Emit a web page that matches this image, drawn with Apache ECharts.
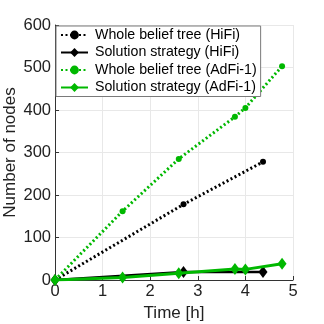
<!DOCTYPE html>
<html>
<head>
<meta charset="utf-8">
<script src="https://cdn.jsdelivr.net/npm/echarts@6/dist/echarts.min.js"></script>
<style>
html, body { margin: 0; padding: 0; background: #fff; }
#chart { width: 324px; height: 324px; }
</style>
</head>
<body>
<div id="chart"></div>
<script>
// data
const seriesNames = ['Whole belief tree (HiFi)', 'Solution strategy (HiFi)', 'Whole belief tree (AdFi-1)', 'Solution strategy (AdFi-1)'];
const hifiTime = [0, 2.7, 4.37];
const hifiTree = [0, 178, 278];
const hifiSolution = [0, 19, 19];
const adfiTime = [0, 1.42, 2.6, 3.78, 4.0, 4.77];
const adfiTree = [0, 162, 285, 384, 405, 503];
const adfiSolution = [0, 6, 16, 26, 25, 38];
const xTicks = [0, 1, 2, 3, 4, 5];
const yTicks = [0, 100, 200, 300, 400, 500, 600];

const green = '#00b800';
const font = 'Liberation Sans, Arial, Helvetica, sans-serif';

function pairs(xs, ys) {
  return xs.map((x, i) => [x, ys[i]]);
}

const chart = echarts.init(document.getElementById('chart'));
chart.setOption({
  animation: false,
  grid: { left: 55, right: 31, top: 25, bottom: 44, containLabel: false, outerBoundsMode: 'none' },
  legend: {
    left: 56,
    top: 26,
    orient: 'vertical',
    backgroundColor: '#fff',
    borderColor: '#7a7a7a',
    borderWidth: 1,
    borderRadius: 0,
    padding: [2, 4, 2, 4],
    itemWidth: 27,
    itemHeight: 11,
    itemGap: 3.5,
    textStyle: { fontFamily: font, fontSize: 14.2, lineHeight: 13, color: '#000', padding: [0, 0, 0, 2] },
    data: seriesNames
  },
  xAxis: {
    type: 'value',
    min: xTicks[0],
    max: xTicks[xTicks.length - 1],
    interval: 1,
    axisLine: { lineStyle: { color: '#333', width: 1 } },
    axisTick: { inside: true, length: 4, lineStyle: { color: '#333' } },
    axisLabel: { fontFamily: font, fontSize: 16.5, color: '#222', margin: 3 },
    splitLine: { show: true, lineStyle: { color: '#e8e8e8' } },
    name: 'Time [h]',
    nameLocation: 'middle',
    nameGap: 25,
    nameMoveOverlap: false,
    nameTextStyle: { fontFamily: font, fontSize: 17, color: '#222' }
  },
  yAxis: {
    type: 'value',
    min: yTicks[0],
    max: yTicks[yTicks.length - 1],
    interval: 100,
    axisLine: { show: true, lineStyle: { color: '#333', width: 1 } },
    axisTick: { show: true, inside: true, length: 4, lineStyle: { color: '#333' } },
    axisLabel: { fontFamily: font, fontSize: 16.5, color: '#222', margin: 4 },
    splitLine: { show: true, lineStyle: { color: '#e8e8e8' } },
    name: 'Number of nodes',
    nameLocation: 'middle',
    nameGap: 36,
    nameMoveOverlap: false,
    nameTextStyle: { fontFamily: font, fontSize: 17, color: '#222' }
  },
  series: [
    {
      name: seriesNames[0],
      type: 'line',
      data: pairs(hifiTime, hifiTree),
      symbol: 'circle',
      symbolSize: 6,
      itemStyle: { color: '#000' },
      lineStyle: { color: '#000', width: 3, type: [2, 2.5] },
      z: 2
    },
    {
      name: seriesNames[1],
      type: 'line',
      data: pairs(hifiTime, hifiSolution),
      symbol: 'diamond',
      symbolSize: [9, 12],
      itemStyle: { color: '#000' },
      lineStyle: { color: '#000', width: 2.5 },
      z: 3
    },
    {
      name: seriesNames[2],
      type: 'line',
      data: pairs(adfiTime, adfiTree),
      symbol: 'circle',
      symbolSize: 6,
      itemStyle: { color: green },
      lineStyle: { color: green, width: 3, type: [2, 2.5] },
      z: 2
    },
    {
      name: seriesNames[3],
      type: 'line',
      data: pairs(adfiTime, adfiSolution),
      symbol: 'diamond',
      symbolSize: [9, 12],
      itemStyle: { color: green },
      lineStyle: { color: green, width: 3 },
      z: 4
    }
  ]
});
</script>
</body>
</html>
